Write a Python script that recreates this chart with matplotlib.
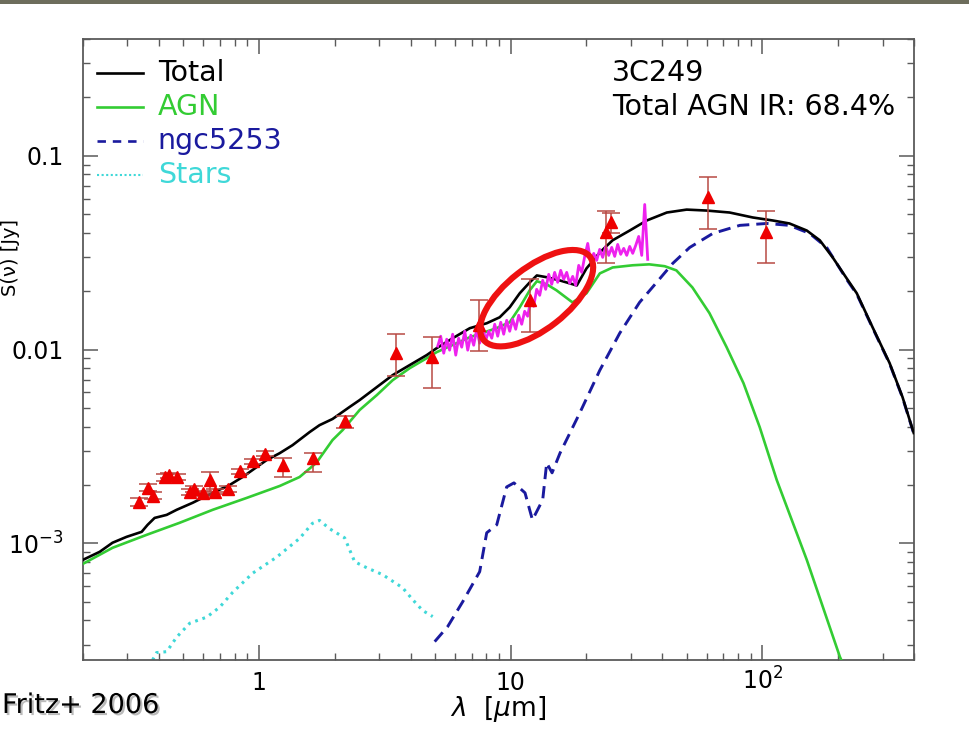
"""SED decomposition of 3C249: photometry, IRS spectrum and model components."""

import matplotlib
import matplotlib.pyplot as plt
import matplotlib.patheffects as pe
import matplotlib.transforms as mtransforms
import numpy as np
from matplotlib.patches import Ellipse, Rectangle
from matplotlib.ticker import FixedLocator, LogLocator, NullFormatter

matplotlib.use('Agg')

# Total model (micron, Jy)
total_wl = [0.200, 0.233, 0.262, 0.298, 0.342, 0.361, 0.385, 0.430, 0.471, 0.545,
            0.655, 0.765, 0.861, 1.006, 1.074, 1.21, 1.36, 1.59, 1.74, 1.96,
            2.29, 2.51, 2.94, 3.40, 3.97, 4.64, 5.08, 5.88, 6.88, 8.03,
            9.04, 9.91, 10.86, 11.9, 12.7, 13.9, 15.7, 18.3, 20.0, 22.6,
            25.4, 29.7, 34.7, 41.7, 50.0, 60.1, 74.1, 91.5, 110, 128,
            150, 169, 190, 216, 237, 274, 320, 360, 399]
total_flux = [8.22e-4, 9.04e-4, 1.007e-3, 1.08e-3, 1.146e-3, 1.245e-3, 1.352e-3, 1.402e-3, 1.489e-3, 1.618e-3,
              1.821e-3, 2.0e-3, 2.198e-3, 2.535e-3, 2.69e-3, 2.92e-3, 3.21e-3, 3.75e-3, 4.07e-3, 4.38e-3,
              5.05e-3, 5.48e-3, 6.40e-3, 7.38e-3, 8.31e-3, 9.36e-3, 1.016e-2, 1.143e-2, 1.288e-2, 1.366e-2,
              1.466e-2, 1.651e-2, 1.95e-2, 2.22e-2, 2.41e-2, 2.36e-2, 2.27e-2, 2.14e-2, 2.62e-2, 3.17e-2,
              3.66e-2, 4.11e-2, 4.63e-2, 5.09e-2, 5.27e-2, 5.21e-2, 5.09e-2, 4.80e-2, 4.63e-2, 4.47e-2,
              4.11e-2, 3.66e-2, 2.99e-2, 2.33e-2, 1.95e-2, 1.30e-2, 8.51e-3, 5.69e-3, 3.71e-3]

# AGN torus component
agn_wl = [0.200, 0.262, 0.358, 0.484, 0.655, 0.894, 1.21, 1.45, 1.69, 1.96,
          2.15, 2.51, 2.94, 3.40, 3.97, 4.64, 5.08, 6.88, 8.78, 9.91,
          10.86, 11.9, 12.7, 13.9, 15.2, 17.6, 20.0, 22.6, 25.4, 30.5,
          35.5, 40.9, 45.5, 52.7, 61.6, 72.0, 84.1, 97.5, 114, 150,
          203, 215]
agn_flux = [7.84e-4, 9.48e-4, 1.106e-3, 1.276e-3, 1.489e-3, 1.715e-3, 1.977e-3, 2.198e-3, 2.60e-3, 3.41e-3,
            3.84e-3, 4.87e-3, 5.82e-3, 6.95e-3, 8.01e-3, 9.02e-3, 9.69e-3, 1.157e-2, 1.288e-2, 1.383e-2,
            1.651e-2, 2.02e-2, 2.25e-2, 2.17e-2, 2.02e-2, 1.75e-2, 1.95e-2, 2.47e-2, 2.65e-2, 2.72e-2,
            2.75e-2, 2.69e-2, 2.56e-2, 2.09e-2, 1.54e-2, 1.03e-2, 6.70e-3, 3.98e-3, 2.12e-3, 8.22e-4,
            2.60e-4, 2.2e-4]

# Starburst template (NGC 5253)
ngc_wl = [4.99, 5.62, 6.45, 7.53, 8.03, 8.80, 9.64, 10.3, 11.4, 12.2,
          13.4, 13.9, 14.6, 15.7, 18.8, 22.6, 27.1, 32.5, 38.0, 44.0,
          51.4, 63.5, 81.3, 104, 128, 154, 180, 216, 237, 274,
          320, 360, 399]
ngc_flux = [3.11e-4, 3.72e-4, 5.00e-4, 7.14e-4, 1.133e-3, 1.245e-3, 1.954e-3, 2.05e-3, 1.821e-3, 1.321e-3,
            1.675e-3, 2.60e-3, 2.31e-3, 2.92e-3, 4.70e-3, 7.82e-3, 1.213e-2, 1.75e-2, 2.22e-2, 2.78e-2,
            3.36e-2, 3.97e-2, 4.37e-2, 4.47e-2, 4.37e-2, 3.97e-2, 3.36e-2, 2.30e-2, 1.93e-2, 1.29e-2,
            8.45e-3, 5.65e-3, 3.69e-3]

# Stellar component
stars_wl = [0.378, 0.392, 0.430, 0.471, 0.531, 0.620, 0.698, 0.787, 0.944, 1.175,
            1.45, 1.63, 1.74, 1.91, 2.19, 2.40, 2.68, 3.10, 3.72, 4.08,
            4.47, 4.90]
stars_flux = [2.5e-4, 2.73e-4, 2.76e-4, 3.28e-4, 3.87e-4, 4.16e-4, 4.68e-4, 5.59e-4, 7.01e-4, 8.48e-4,
              1.06e-3, 1.267e-3, 1.313e-3, 1.188e-3, 1.067e-3, 8.03e-4, 7.48e-4, 6.89e-4, 5.90e-4, 5.12e-4,
              4.50e-4, 4.19e-4]

# Spitzer IRS spectrum
irs_wl = [5.13, 5.27, 5.42, 5.57, 5.72, 5.88, 6.05, 6.21, 6.39, 6.57,
          6.75, 6.94, 7.13, 7.33, 7.53, 7.74, 7.96, 8.18, 8.41, 8.64,
          8.88, 9.13, 9.38, 9.64, 9.91, 10.18, 10.47, 10.76, 11.06, 11.36,
          11.68, 12.01, 12.34, 12.68, 13.04, 13.40, 13.77, 14.16, 14.55, 14.95,
          15.37, 15.80, 16.24, 16.69, 17.15, 17.63, 18.12, 18.63, 19.15, 19.68,
          20.23, 20.79, 21.37, 21.96, 22.57, 23.20, 23.85, 24.51, 25.19, 25.89,
          26.61, 27.35, 28.12, 28.90, 29.70, 30.53, 31.38, 32.25, 33.15, 34.07,
          35.02]
irs_flux = [1.040e-2, 1.171e-2, 9.57e-3, 1.130e-2, 9.92e-3, 1.199e-2, 9.35e-3, 1.144e-2, 1.028e-2, 1.242e-2,
            9.92e-3, 1.185e-2, 1.052e-2, 1.272e-2, 1.078e-2, 1.303e-2, 1.117e-2, 1.242e-2, 1.144e-2, 1.350e-2,
            1.171e-2, 1.382e-2, 1.199e-2, 1.415e-2, 1.242e-2, 1.432e-2, 1.272e-2, 1.502e-2, 1.350e-2, 1.575e-2,
            1.484e-2, 1.794e-2, 1.671e-2, 2.044e-2, 1.904e-2, 2.275e-2, 2.044e-2, 2.442e-2, 2.169e-2, 2.500e-2,
            2.221e-2, 2.561e-2, 2.301e-2, 2.500e-2, 2.195e-2, 2.385e-2, 2.143e-2, 2.717e-2, 2.500e-2, 3.023e-2,
            3.527e-2, 2.816e-2, 3.133e-2, 2.884e-2, 3.285e-2, 2.987e-2, 3.404e-2, 3.059e-2, 3.364e-2, 3.023e-2,
            3.485e-2, 3.096e-2, 3.325e-2, 3.059e-2, 3.404e-2, 3.133e-2, 3.444e-2, 3.832e-2, 3.059e-2, 5.601e-2,
            2.917e-2]

# Broad-band photometry with error bar ends
phot_wl = [0.333, 0.361, 0.378, 0.422, 0.438, 0.471, 0.531, 0.550, 0.598, 0.637,
           0.667, 0.751, 0.838, 0.944, 1.054, 1.242, 1.634, 2.19, 3.49, 4.86,
           7.46, 11.9, 23.9, 25.0, 60.6, 103]
phot_flux = [1.64e-3, 1.93e-3, 1.76e-3, 2.20e-3, 2.25e-3, 2.20e-3, 1.84e-3, 1.91e-3, 1.82e-3, 2.12e-3,
             1.84e-3, 1.91e-3, 2.36e-3, 2.66e-3, 2.89e-3, 2.54e-3, 2.76e-3, 4.29e-3, 9.57e-3, 9.13e-3,
             1.33e-2, 1.79e-2, 4.02e-2, 4.53e-2, 6.09e-2, 4.02e-2]
phot_lo = [1.56e-3, 1.86e-3, 1.69e-3, 2.10e-3, 2.17e-3, 2.12e-3, 1.78e-3, 1.84e-3, 1.76e-3, 1.84e-3,
           1.80e-3, 1.84e-3, 2.28e-3, 2.57e-3, 2.82e-3, 2.20e-3, 2.34e-3, 3.93e-3, 7.29e-3, 6.30e-3,
           9.80e-3, 1.23e-2, 2.78e-2, 3.97e-2, 4.17e-2, 2.78e-2]
phot_hi = [1.72e-3, 2.03e-3, 1.84e-3, 2.28e-3, 2.31e-3, 2.28e-3, 1.91e-3, 1.98e-3, 1.86e-3, 2.34e-3,
           1.91e-3, 1.98e-3, 2.42e-3, 2.72e-3, 3.00e-3, 2.76e-3, 2.92e-3, 4.56e-3, 1.20e-2, 1.16e-2,
           1.79e-2, 2.30e-2, 5.16e-2, 5.04e-2, 7.72e-2, 5.16e-2]

# Silicate feature highlight
ring_wl = 12.68
ring_flux = 1.84e-2

x_ticks = [1, 10, 100]
x_tick_labels = ['1', '10', '10$^2$']
y_ticks = [1e-3, 1e-2, 1e-1]
y_tick_labels = ['10$^{-3}$', '0.01', '0.1']

C_TOTAL = 'black'
C_AGN = '#33cc33'
C_NGC = '#1a1a9e'
C_STARS = '#3fd8d8'
C_IRS = '#ee22ee'
C_PHOT = '#ee0000'
C_ERR = '#b84a44'
C_AXIS = '#5a5a5a'

plt.rcParams['font.family'] = ['DejaVu Sans']
plt.rcParams['mathtext.fontset'] = 'dejavusans'

W, H = 970, 742
fig = plt.figure(figsize=(W / 100, H / 100), dpi=100)
ax = fig.add_axes([83 / W, 1 - 660 / H, 831 / W, 621 / H])
ax.set_xscale('log')
ax.set_yscale('log')

ax.plot(stars_wl, stars_flux, color=C_STARS, lw=2.2, ls=(0, (0.9, 1.6)), zorder=2)
ax.plot(ngc_wl, ngc_flux, color=C_NGC, lw=2.1, ls=(0, (4.2, 2.4)), zorder=2)
ax.plot(agn_wl, agn_flux, color=C_AGN, lw=1.9, zorder=3)
ax.plot(total_wl, total_flux, color=C_TOTAL, lw=1.9, zorder=3)
ax.plot(irs_wl, irs_flux, color=C_IRS, lw=2.0, zorder=4)

phot_flux_arr = np.array(phot_flux)
yerr = [phot_flux_arr - np.array(phot_lo), np.array(phot_hi) - phot_flux_arr]
ax.errorbar(phot_wl, phot_flux, yerr=yerr, fmt='^', color=C_PHOT, ms=8, mec=C_PHOT,
            ecolor=C_ERR, elinewidth=1.1, capsize=6.5, capthick=1.1, zorder=5)

# red ring drawn in screen units, centred on a data position
ring_trans = fig.dpi_scale_trans + mtransforms.ScaledTranslation(ring_wl, ring_flux, ax.transData)
ax.add_patch(Ellipse((0, 0), 1.35, 0.62, angle=38, fill=False, edgecolor='#ee1111',
                     linewidth=4.4, transform=ring_trans, zorder=6))

ax.set_xlim(0.2, 400)
ax.set_ylim(2.5e-4, 0.4)

ax.xaxis.set_major_locator(FixedLocator(x_ticks))
ax.xaxis.set_minor_locator(LogLocator(base=10, subs=np.arange(2, 10)))
ax.xaxis.set_minor_formatter(NullFormatter())
ax.set_xticklabels(x_tick_labels)
ax.yaxis.set_major_locator(FixedLocator(y_ticks))
ax.yaxis.set_minor_locator(LogLocator(base=10, subs=np.arange(2, 10)))
ax.yaxis.set_minor_formatter(NullFormatter())
ax.set_yticklabels(y_tick_labels)

ax.tick_params(which='both', direction='in', top=True, right=True, color=C_AXIS)
ax.tick_params(which='major', length=10.5, width=1.1)
ax.tick_params(which='minor', length=5, width=1.0)
ax.tick_params(axis='x', which='major', pad=21.5, labelsize=17)
ax.tick_params(axis='y', which='major', pad=14, labelsize=17)
for lbl in ax.get_xticklabels():
    lbl.set_verticalalignment('baseline')
for spine in ax.spines.values():
    spine.set_color(C_AXIS)
    spine.set_linewidth(1.3)

ax.set_xlabel(r'$\lambda$  [$\mu$m]', fontsize=19)
ax.xaxis.set_label_coords(0.5, -0.055)

# legend drawn by hand in axes coordinates
legend_rows = [('Total', C_TOTAL, '-'), ('AGN', C_AGN, '-'),
               ('ngc5253', C_NGC, (0, (3.2, 2.6))), ('Stars', C_STARS, (0, (1, 1.2)))]
for i, (name, col, style) in enumerate(legend_rows):
    yy = 0.945 - i * 0.0545
    ax.plot([0.017, 0.072], [yy, yy], transform=ax.transAxes, color=col,
            lw=1.9 if i < 3 else 1.5, ls=style, clip_on=False)
    ax.text(0.090, yy, name, transform=ax.transAxes, color=col, fontsize=20.5,
            va='center', ha='left')

ax.text(0.637, 0.945, '3C249', transform=ax.transAxes, fontsize=20.5, va='center', ha='left')
ax.text(0.637, 0.8905, 'Total AGN IR: 68.4%', transform=ax.transAxes, fontsize=20.5,
        va='center', ha='left')

# flux axis title sits in the narrow strip left of the tick labels
fig.text(1 / W, 1 - 258 / H, 'S(ν) [Jy]', rotation=90, ha='left', va='center', fontsize=14)

fig.text(2 / W, 1 - 713 / H, 'Fritz+ 2006', fontsize=19.5, va='baseline', ha='left',
         path_effects=[pe.withSimplePatchShadow(offset=(1.5, -1.5), shadow_rgbFace='#777777', alpha=0.5)])

fig.add_artist(Rectangle((0, 1 - 4 / H), 1, 4 / H, transform=fig.transFigure,
                         facecolor='#6d6d5c', edgecolor='none'))

fig.savefig('out.png', dpi=100)
plt.close(fig)
